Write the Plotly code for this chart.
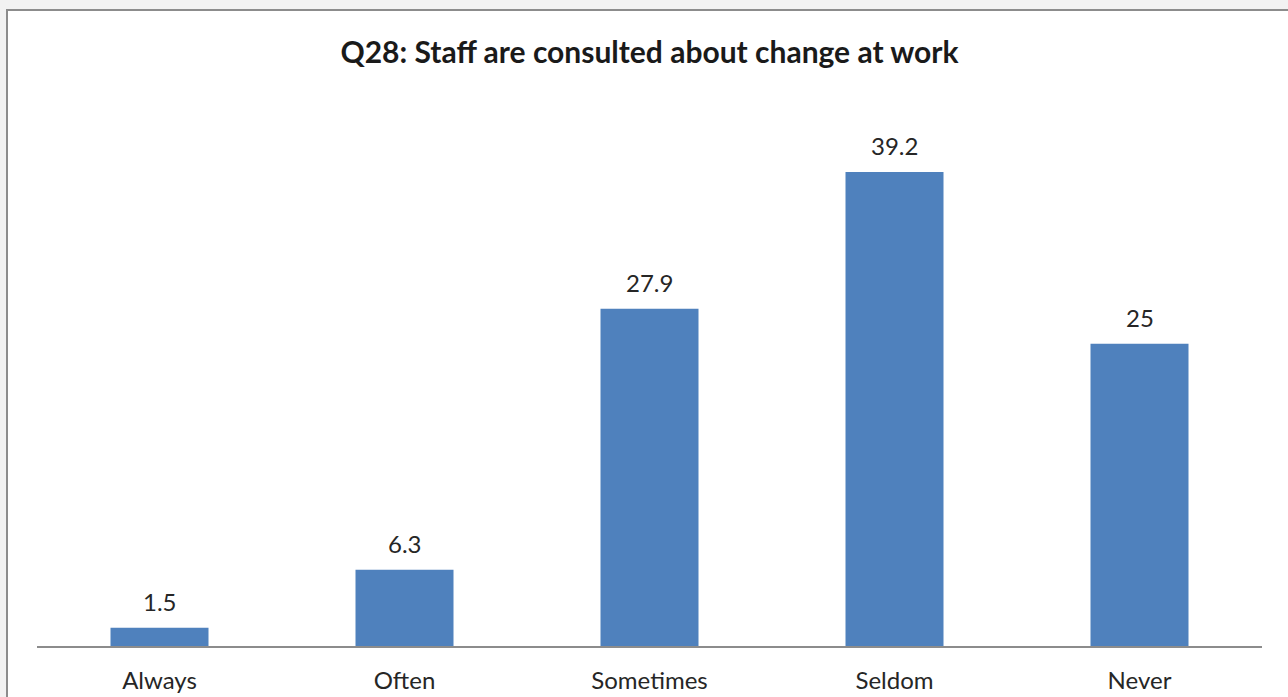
import plotly.graph_objects as go

categories = ["Always", "Often", "Sometimes", "Seldom", "Never"]
percentages = [1.5, 6.3, 27.9, 39.2, 25]
value_labels = ["1.5", "6.3", "27.9", "39.2", "25"]

W, H = 1288, 697
L, R, T, B = 37, 26, 102, 51
pw, ph = W - L - R, H - T - B

def px_x(x):
    return (x - L) / pw

def px_y(y):
    return (H - B - y) / ph

FONT = "Lato"
TEXT_COLOR = "#262626"

fig = go.Figure(
    go.Bar(
        x=categories,
        y=percentages,
        marker=dict(color="#4F81BD", line=dict(width=0)),
        width=0.4,
        hoverinfo="x+y",
    )
)

# value labels above each bar
for cat, val, lab in zip(categories, percentages, value_labels):
    fig.add_annotation(
        x=cat, y=val, text=lab, showarrow=False,
        xref="x", yref="y", yanchor="bottom", yshift=10,
        font=dict(family=FONT, size=24, color=TEXT_COLOR),
    )

# chart frame
fig.add_shape(
    type="rect", xref="paper", yref="paper", layer="below",
    x0=px_x(7), x1=px_x(1300), y0=px_y(710), y1=px_y(10),
    fillcolor="white", line=dict(color="#8c8c8c", width=2),
)

fig.update_layout(
    width=W, height=H,
    margin=dict(l=L, r=R, t=T, b=B, autoexpand=False),
    paper_bgcolor="#f2f2f2",
    plot_bgcolor="rgba(0,0,0,0)",
    showlegend=False,
    title=dict(
        text="<b>Q28: Staff are consulted about change at work</b>",
        x=0.5, xanchor="center", xref="paper",
        y=(H - 52) / H, yanchor="middle",
        font=dict(family=FONT, size=30, color="#1a1a1a"),
    ),
    xaxis=dict(
        showline=True, linecolor="#8c8c8c", linewidth=2,
        ticks="", ticklabelstandoff=12, automargin=False,
        tickfont=dict(family=FONT, size=24, color=TEXT_COLOR),
        showgrid=False, fixedrange=True,
    ),
    yaxis=dict(
        range=[0, 45], visible=False, showgrid=False, fixedrange=True,
        automargin=False,
    ),
)

fig.write_html("out.html")
